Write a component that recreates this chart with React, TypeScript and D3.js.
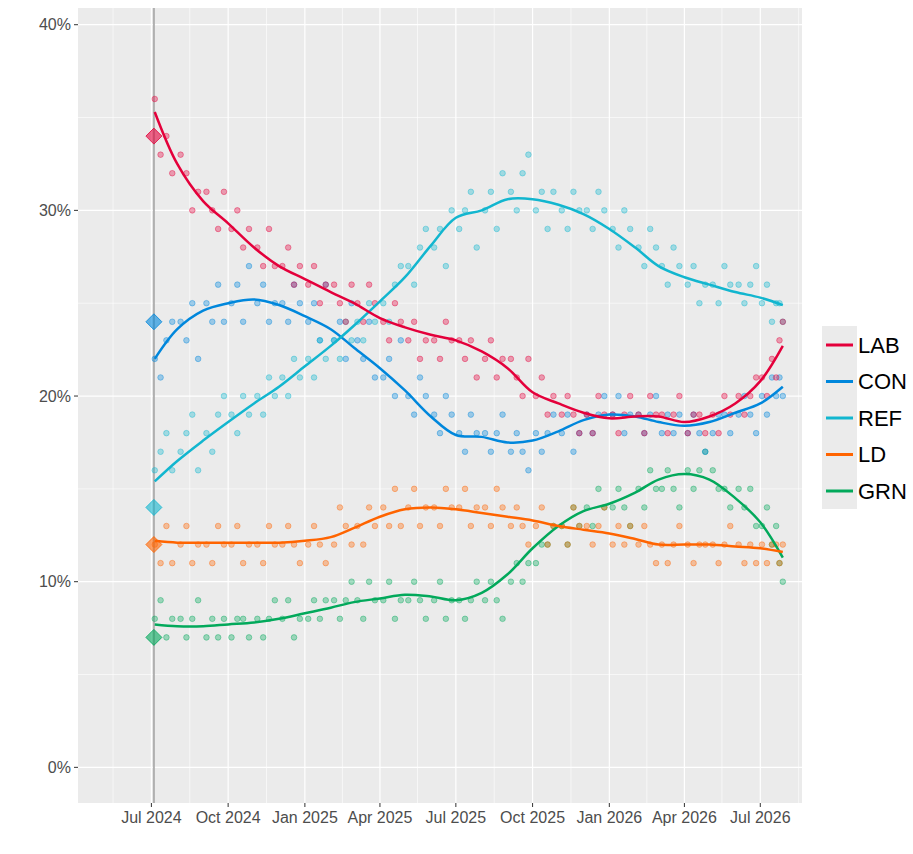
import * as d3 from "d3";

const PARTIES = ["LAB", "CON", "REF", "LD", "GRN"];
const COLORS: Record<string, string> = {
  LAB: "#E4003B",
  CON: "#0087DC",
  REF: "#12B6CF",
  LD: "#FF6400",
  GRN: "#02A95B",
};

const ELECTION_DATE = "2024-07-04";
const ELECTION_RESULT = [34, 24, 14, 12, 7];

const POLL_DATES = [
  "2024-07-05", "2024-07-12", "2024-07-19", "2024-07-26",
  "2024-08-05", "2024-08-12", "2024-08-19", "2024-08-26",
  "2024-09-05", "2024-09-12", "2024-09-19", "2024-09-26",
  "2024-10-05", "2024-10-12", "2024-10-19", "2024-10-26",
  "2024-11-05", "2024-11-12", "2024-11-19", "2024-11-26",
  "2024-12-05", "2024-12-12", "2024-12-19", "2024-12-26",
  "2025-01-05", "2025-01-12", "2025-01-19", "2025-01-26",
  "2025-02-05", "2025-02-12", "2025-02-19", "2025-02-26",
  "2025-03-05", "2025-03-12", "2025-03-19", "2025-03-26",
  "2025-04-05", "2025-04-12", "2025-04-19", "2025-04-26",
  "2025-05-05", "2025-05-12", "2025-05-19", "2025-05-26",
  "2025-06-05", "2025-06-12", "2025-06-19", "2025-06-26",
  "2025-07-05", "2025-07-12", "2025-07-19", "2025-07-26",
  "2025-08-05", "2025-08-12", "2025-08-19", "2025-08-26",
  "2025-09-05", "2025-09-12", "2025-09-19", "2025-09-26",
  "2025-10-05", "2025-10-12", "2025-10-19", "2025-10-26",
  "2025-11-05", "2025-11-12", "2025-11-19", "2025-11-26",
  "2025-12-05", "2025-12-12", "2025-12-19", "2025-12-26",
  "2026-01-05", "2026-01-12", "2026-01-19", "2026-01-26",
  "2026-02-05", "2026-02-12", "2026-02-19", "2026-02-26",
  "2026-03-05", "2026-03-12", "2026-03-19", "2026-03-26",
  "2026-04-05", "2026-04-12", "2026-04-19", "2026-04-26",
  "2026-05-05", "2026-05-12", "2026-05-19", "2026-05-26",
  "2026-06-05", "2026-06-12", "2026-06-19", "2026-06-26",
  "2026-07-03", "2026-07-09", "2026-07-15", "2026-07-20",
  "2026-07-24", "2026-07-28",
];

const LAB_POLLS = [
  36, 33, 34, 32, 33, 32, 30, 31, 31, 30, 29, 31, 29, 30, 28, 29, 28, 27, 29, 27,
  27, 28, 26, 27, 26, 27, 25, 26, 26, 25, 24, 26, 25, 24, 26, 25, 24, 23, 25, 24,
  23, 24, 22, 23, 23, 22, 24, 23, 23, 22, 23, 21, 22, 23, 21, 22, 22, 21, 20, 22,
  20, 21, 19, 20, 19, 20, 19, 18, 19, 18, 20, 19, 19, 18, 19, 20, 19, 18, 20, 19,
  19, 18, 19, 20, 18, 19, 19, 18, 19, 18, 20, 19, 20, 19, 20, 21, 21, 20, 22, 21,
  23, 24,
];
const CON_POLLS = [
  22, 21, 23, 24, 24, 23, 25, 22, 25, 24, 26, 24, 25, 26, 24, 27, 25, 26, 24, 25,
  25, 24, 26, 25, 24, 25, 23, 26, 23, 24, 22, 25, 23, 22, 24, 21, 21, 22, 20, 23,
  20, 19, 21, 20, 19, 18, 20, 19, 18, 17, 19, 18, 18, 17, 18, 19, 17, 18, 17, 16,
  18, 17, 18, 19, 18, 19, 17, 18, 19, 18, 19, 20, 19, 20, 18, 19, 19, 18, 19, 20,
  18, 19, 18, 19, 18, 19, 18, 17, 18, 19, 19, 18, 19, 20, 19, 18, 20, 19, 21, 20,
  21, 20,
];
const REF_POLLS = [
  16, 17, 18, 16, 17, 18, 19, 16, 18, 17, 19, 20, 19, 18, 20, 19, 20, 19, 21, 20,
  21, 20, 22, 21, 22, 21, 23, 22, 23, 22, 24, 23, 24, 23, 25, 24, 25, 24, 26, 27,
  27, 26, 28, 29, 28, 29, 27, 30, 29, 30, 31, 28, 30, 31, 29, 32, 31, 30, 32, 33,
  30, 31, 29, 31, 30, 29, 31, 30, 30, 29, 31, 30, 29, 28, 30, 29, 28, 27, 29, 28,
  27, 26, 28, 27, 26, 27, 25, 26, 26, 25, 27, 26, 26, 25, 26, 27, 25, 26, 24, 25,
  25, 24,
];
const LD_POLLS = [
  12, 11, 13, 11, 12, 13, 11, 12, 12, 11, 13, 12, 12, 13, 11, 12, 12, 11, 13, 12,
  12, 13, 12, 11, 12, 13, 12, 11, 12, 14, 13, 12, 13, 12, 14, 13, 14, 13, 15, 13,
  14, 15, 13, 14, 14, 13, 15, 14, 14, 15, 13, 14, 14, 13, 15, 14, 13, 14, 13, 12,
  13, 14, 12, 13, 13, 12, 14, 13, 13, 12, 13, 14, 12, 13, 12, 13, 12, 13, 12, 11,
  12, 11, 12, 13, 12, 11, 12, 12, 12, 11, 12, 13, 12, 11, 12, 11, 12, 11, 12, 12,
  11, 12,
];
const GRN_POLLS = [
  8, 9, 7, 8, 8, 7, 8, 9, 7, 8, 7, 8, 7, 8, 8, 7, 8, 7, 8, 9,
  8, 9, 7, 8, 8, 9, 8, 9, 9, 8, 9, 10, 9, 8, 10, 9, 9, 10, 8, 9,
  9, 10, 9, 8, 9, 10, 8, 9, 9, 8, 9, 10, 9, 10, 9, 8, 10, 11, 10, 11,
  11, 12, 12, 13, 13, 12, 14, 13, 14, 13, 15, 14, 14, 15, 14, 13, 15, 14, 16, 15,
  15, 16, 15, 14, 16, 15, 16, 17, 16, 15, 15, 14, 15, 14, 15, 13, 13, 14, 12, 13,
  11, 10,
];

const TREND_DATES = [
  "2024-07-05", "2024-08-01", "2024-09-01", "2024-10-01", "2024-11-01", "2024-12-01",
  "2025-01-01", "2025-02-01", "2025-03-01", "2025-04-01", "2025-05-01", "2025-06-01",
  "2025-07-01", "2025-08-01", "2025-09-01", "2025-10-01", "2025-11-01", "2025-12-01",
  "2026-01-01", "2026-02-01", "2026-03-01", "2026-04-01", "2026-05-01", "2026-06-01",
  "2026-07-01", "2026-07-28",
];
const LAB_TREND = [35.3, 32.5, 30.5, 29.3, 28, 27, 26.3, 25.6, 25, 24.2, 23.7, 23.3, 23, 22.4, 21.5, 20.2, 19.6, 19.1, 18.8, 18.9, 18.9, 18.6, 18.9, 19.6, 20.8, 22.7];
const CON_TREND = [22, 23.6, 24.6, 25.0, 25.2, 24.9, 24.3, 23.6, 22.6, 21.5, 20.3, 18.9, 17.9, 17.8, 17.5, 17.6, 18.1, 18.7, 19.0, 18.9, 18.6, 18.4, 18.6, 19.1, 19.6, 20.5];
const REF_TREND = [15.4, 16.5, 17.6, 18.6, 19.6, 20.5, 21.6, 22.7, 23.8, 25.1, 26.4, 28.1, 29.6, 30.0, 30.6, 30.6, 30.3, 29.8, 29.0, 28.0, 27.0, 26.4, 26.0, 25.6, 25.3, 24.9];
const LD_TREND = [12.2, 12.1, 12.1, 12.1, 12.1, 12.1, 12.2, 12.4, 12.9, 13.5, 13.9, 14.0, 13.9, 13.7, 13.5, 13.3, 13.0, 12.8, 12.6, 12.3, 12.0, 12.0, 12.0, 11.9, 11.8, 11.6];
const GRN_TREND = [7.7, 7.6, 7.6, 7.7, 7.8, 8.0, 8.3, 8.6, 8.9, 9.1, 9.3, 9.2, 9.0, 9.4, 10.4, 11.8, 13.0, 13.8, 14.2, 14.8, 15.5, 15.8, 15.5, 14.5, 13.2, 11.3];

const POLLS: Record<string, number[]> = { LAB: LAB_POLLS, CON: CON_POLLS, REF: REF_POLLS, LD: LD_POLLS, GRN: GRN_POLLS };
const TRENDS: Record<string, number[]> = { LAB: LAB_TREND, CON: CON_TREND, REF: REF_TREND, LD: LD_TREND, GRN: GRN_TREND };

const X_TICKS = ["2024-07-01", "2024-10-01", "2025-01-01", "2025-04-01", "2025-07-01", "2025-10-01", "2026-01-01", "2026-04-01", "2026-07-01"];
const X_MINOR = ["2024-05-16", "2024-08-16", "2024-11-16", "2025-02-15", "2025-05-16", "2025-08-16", "2025-11-16", "2026-02-15", "2026-05-16", "2026-08-16"];
const Y_TICKS = [0, 10, 20, 30, 40];
const Y_MINOR = [5, 15, 25, 35];

const W = 913, H = 854;
const P = { l: 78, r: 802, t: 8, b: 803 };
const parse = d3.utcParse("%Y-%m-%d");
const fmt = d3.utcFormat("%b %Y");
const FONT = "Liberation Sans, Arial, sans-serif";

export default function App() {
  const x = d3.scaleUtc().domain([parse("2024-04-04")!, parse("2026-08-20")!]).range([P.l, P.r]);
  const y = d3.scaleLinear().domain([-1.92, 40.9]).range([P.b, P.t]);
  const dates = POLL_DATES.map((d) => parse(d)!);
  const tdates = TREND_DATES.map((d) => parse(d)!);
  const line = d3.line<number>().x((_, i) => x(tdates[i])).y((v) => y(v)).curve(d3.curveCatmullRom.alpha(0.5));
  const ex = x(parse(ELECTION_DATE)!);
  const order = ["GRN", "LD", "CON", "REF", "LAB"];

  return (
    <svg width={W} height={H} style={{ position: "absolute", left: 0, top: 0, background: "#fff" }} fontFamily={FONT}>
      <rect x={P.l} y={P.t} width={P.r - P.l} height={P.b - P.t} fill="#EBEBEB" />
      {Y_MINOR.map((v) => <line key={"ym" + v} x1={P.l} x2={P.r} y1={y(v)} y2={y(v)} stroke="#fff" strokeWidth={0.6} />)}
      {X_MINOR.map((d) => <line key={"xm" + d} y1={P.t} y2={P.b} x1={x(parse(d)!)} x2={x(parse(d)!)} stroke="#fff" strokeWidth={0.6} />)}
      {Y_TICKS.map((v) => <line key={"y" + v} x1={P.l} x2={P.r} y1={y(v)} y2={y(v)} stroke="#fff" strokeWidth={1.2} />)}
      {X_TICKS.map((d) => <line key={"x" + d} y1={P.t} y2={P.b} x1={x(parse(d)!)} x2={x(parse(d)!)} stroke="#fff" strokeWidth={1.2} />)}
      <line x1={ex} x2={ex} y1={P.t} y2={P.b} stroke="#B0B0B0" strokeWidth={2} />
      {order.map((p) =>
        POLLS[p].map((v, i) => (
          <circle key={p + i} cx={x(dates[i])} cy={y(v)} r={2.8} fill={COLORS[p]} fillOpacity={0.35} stroke={COLORS[p]} strokeOpacity={0.5} strokeWidth={0.8} />
        ))
      )}
      {PARTIES.map((p, i) => {
        const cy = y(ELECTION_RESULT[i]);
        return <path key={"e" + p} d={`M${ex},${cy - 8}L${ex + 8},${cy}L${ex},${cy + 8}L${ex - 8},${cy}Z`} fill={COLORS[p]} fillOpacity={0.6} stroke={COLORS[p]} strokeOpacity={0.8} />;
      })}
      {order.map((p) => <path key={"t" + p} d={line(TRENDS[p])!} fill="none" stroke={COLORS[p]} strokeWidth={2.5} />)}
      {Y_TICKS.map((v) => (
        <g key={"yl" + v}>
          <line x1={P.l - 4} x2={P.l} y1={y(v)} y2={y(v)} stroke="#333" />
          <text x={P.l - 7} y={y(v)} dy="0.35em" textAnchor="end" fontSize={16} fill="#4d4d4d">{v}%</text>
        </g>
      ))}
      {X_TICKS.map((d) => (
        <g key={"xl" + d}>
          <line y1={P.b} y2={P.b + 4} x1={x(parse(d)!)} x2={x(parse(d)!)} stroke="#333" />
          <text x={x(parse(d)!)} y={P.b + 20} textAnchor="middle" fontSize={16} fill="#4d4d4d">{fmt(parse(d)!)}</text>
        </g>
      ))}
      <rect x={822} y={326} width={35} height={183} fill="#EBEBEB" />
      {PARTIES.map((p, i) => {
        const ly = 345 + i * 36.5;
        return (
          <g key={"lg" + p}>
            <line x1={826} x2={853} y1={ly} y2={ly} stroke={COLORS[p]} strokeWidth={3} />
            <text x={858} y={ly} dy="0.35em" fontSize={22} fill="#000">{p}</text>
          </g>
        );
      })}
    </svg>
  );
}
